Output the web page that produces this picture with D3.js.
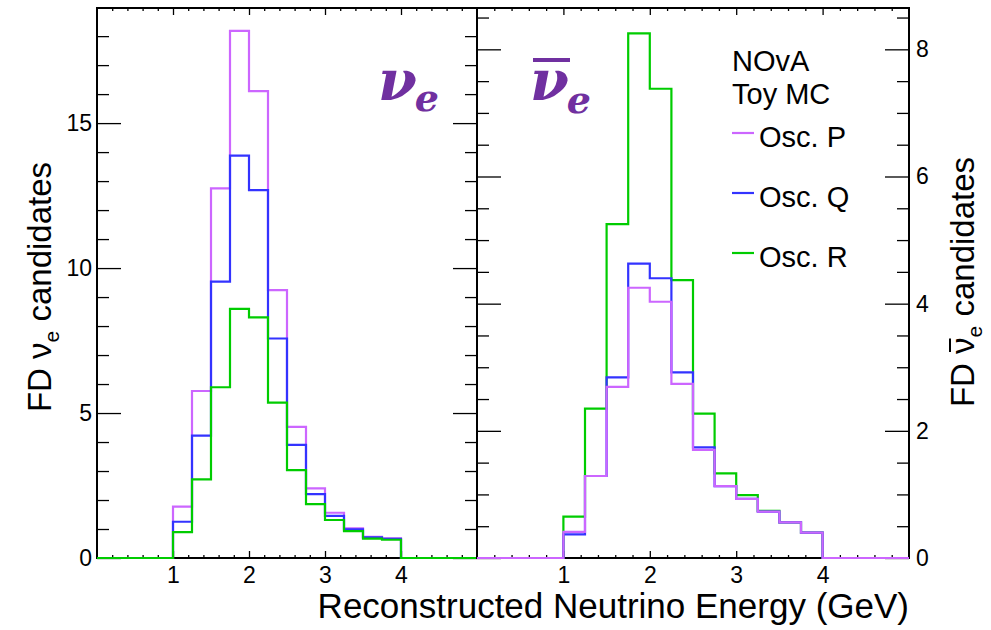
<!DOCTYPE html>
<html>
<head>
<meta charset="utf-8">
<script src="https://cdn.jsdelivr.net/npm/d3@7"></script>
<style>
    body { margin: 0; background: #fff; }
    text { font-family: "Liberation Sans", Arial, sans-serif; }
</style>
</head>
<body>
<svg id="chart" width="991" height="630"></svg>
<script>
// Bin lower edges (GeV), 0.25 GeV wide bins
const binLow = [0, 0.25, 0.5, 0.75, 1, 1.25, 1.5, 1.75, 2, 2.25,
                2.5, 2.75, 3, 3.25, 3.5, 3.75, 4, 4.25, 4.5, 4.75];
const binWidth = 0.25;

// nu_e panel
const nueP = [0, 0, 0, 0, 1.77, 5.76, 12.75, 18.18, 16.1, 9.24, 4.52, 2.40, 1.56, 1.02, 0.73, 0.68, 0, 0, 0, 0];
const nueQ = [0, 0, 0, 0, 1.25, 4.22, 9.53, 13.88, 12.69, 7.57, 3.90, 2.20, 1.45, 0.99, 0.71, 0.66, 0, 0, 0, 0];
const nueR = [0, 0, 0, 0, 0.89, 2.71, 5.89, 8.59, 8.30, 5.36, 3.03, 1.86, 1.31, 0.93, 0.67, 0.63, 0, 0, 0, 0];

// anti nu_e panel
const nuebarP = [0, 0, 0, 0, 0.41, 1.29, 2.69, 4.25, 4.03, 2.74, 1.70, 1.13, 0.93, 0.73, 0.56, 0.40, 0, 0, 0, 0];
const nuebarQ = [0, 0, 0, 0, 0.37, 1.29, 2.84, 4.63, 4.40, 2.92, 1.74, 1.13, 0.93, 0.73, 0.56, 0.40, 0, 0, 0, 0];
const nuebarR = [0, 0, 0, 0, 0.65, 2.35, 5.25, 8.25, 7.38, 4.37, 2.27, 1.33, 0.99, 0.74, 0.56, 0.40, 0, 0, 0, 0];

const xMajor = [1, 2, 3, 4];
const xMinor = [0.2, 0.4, 0.6, 0.8, 1.2, 1.4, 1.6, 1.8, 2.2, 2.4, 2.6, 2.8,
                3.2, 3.4, 3.6, 3.8, 4.2, 4.4, 4.6, 4.8];
const nueMajor = [0, 5, 10, 15];
const nueMinor = [1, 2, 3, 4, 6, 7, 8, 9, 11, 12, 13, 14, 16, 17, 18];
const nuebarMajor = [0, 2, 4, 6, 8];
const nuebarMinor = [0.5, 1, 1.5, 2.5, 3, 3.5, 4.5, 5, 5.5, 6.5, 7, 7.5, 8.5];

const seriesNames = ["Osc. P", "Osc. Q", "Osc. R"];
const colors = {"Osc. P": "#cc66ff", "Osc. Q": "#3333ff", "Osc. R": "#00cc00"};

const frameTop = 8, frameBottom = 558;
const svg = d3.select("#chart");

function stepPoints(values) {
    let pts = [];
    for (let i = 0; i < values.length; i++) {
        pts.push([binLow[i], values[i]]);
        pts.push([binLow[i] + binWidth, values[i]]);
    }
    return pts;
}

function drawPanel(left, right, yMax, yMajor, yMinor, hists, labelSide) {
    const x = d3.scaleLinear().domain([0, 5]).range([left, right]);
    const y = d3.scaleLinear().domain([0, yMax]).range([frameBottom, frameTop]);
    const g = svg.append("g");

    // ticks on all four sides, pointing inward
    function addAxis(axis, tx, ty) {
        const a = g.append("g")
            .attr("transform", "translate(" + tx + "," + ty + ")")
            .call(axis);
        a.select(".domain").remove();
        a.selectAll("line").attr("stroke", "#000").attr("stroke-width", 1.3);
        a.selectAll("text")
            .attr("font-family", "Liberation Sans, Arial, sans-serif")
            .attr("font-size", 23)
            .attr("fill", "#000");
        return a;
    }

    addAxis(d3.axisBottom(x).tickValues(xMinor).tickSize(-3).tickFormat(""), 0, frameBottom);
    addAxis(d3.axisBottom(x).tickValues(xMajor).tickSize(-7).tickPadding(9).tickFormat(d3.format("d")), 0, frameBottom);
    addAxis(d3.axisTop(x).tickValues(xMinor).tickSize(-3).tickFormat(""), 0, frameTop);
    addAxis(d3.axisTop(x).tickValues(xMajor).tickSize(-7).tickFormat(""), 0, frameTop);

    addAxis(d3.axisLeft(y).tickValues(yMinor).tickSize(-12).tickFormat(""), left, 0);
    addAxis(d3.axisRight(y).tickValues(yMinor).tickSize(-12).tickFormat(""), right, 0);
    if (labelSide === "left") {
        addAxis(d3.axisLeft(y).tickValues(yMajor).tickSize(-24).tickPadding(5).tickFormat(d3.format("d")), left, 0);
        addAxis(d3.axisRight(y).tickValues(yMajor).tickSize(-24).tickFormat(""), right, 0);
    } else {
        addAxis(d3.axisLeft(y).tickValues(yMajor).tickSize(-24).tickFormat(""), left, 0);
        addAxis(d3.axisRight(y).tickValues(yMajor).tickSize(-24).tickPadding(7).tickFormat(d3.format("d")), right, 0);
    }

    // frame
    g.append("rect")
        .attr("x", left)
        .attr("y", frameTop)
        .attr("width", right - left)
        .attr("height", frameBottom - frameTop)
        .attr("fill", "none")
        .attr("stroke", "#000")
        .attr("stroke-width", 2);

    // histograms, drawn over the frame like ROOT does
    const line = d3.line()
        .x(d => x(d[0]))
        .y(d => y(d[1]));

    for (let h of hists) {
        g.append("path")
            .attr("d", line(stepPoints(h.values)))
            .attr("fill", "none")
            .attr("stroke", colors[h.name])
            .attr("stroke-width", 2.2);
    }

    return {x: x, y: y};
}

drawPanel(97, 477, 18.97, nueMajor, nueMinor, [
    {name: "Osc. P", values: nueP},
    {name: "Osc. Q", values: nueQ},
    {name: "Osc. R", values: nueR}
], "left");

drawPanel(477, 909, 8.65, nuebarMajor, nuebarMinor, [
    {name: "Osc. R", values: nuebarR},
    {name: "Osc. Q", values: nuebarQ},
    {name: "Osc. P", values: nuebarP}
], "right");

// big panel labels
const purple = "#7030a0";
const nuLeft = svg.append("text")
    .attr("x", 378)
    .attr("y", 100)
    .attr("fill", purple)
    .style("font-family", "DejaVu Serif, serif")
    .style("font-weight", "bold")
    .style("font-style", "italic");
nuLeft.append("tspan").attr("font-size", 56).text("ν");
nuLeft.append("tspan").attr("font-size", 38).attr("dx", -2).attr("dy", 11).text("e");

const nuRight = svg.append("text")
    .attr("x", 530)
    .attr("y", 100)
    .attr("fill", purple)
    .style("font-family", "DejaVu Serif, serif")
    .style("font-weight", "bold")
    .style("font-style", "italic");
nuRight.append("tspan").attr("font-size", 56).text("ν");
nuRight.append("tspan").attr("font-size", 38).attr("dx", -2).attr("dy", 13).text("e");
svg.append("rect")
    .attr("x", 533)
    .attr("y", 58)
    .attr("width", 37)
    .attr("height", 4)
    .attr("fill", purple);

// legend
svg.append("text").attr("x", 732).attr("y", 71).attr("font-size", 29).text("NOvA");
svg.append("text").attr("x", 732).attr("y", 104).attr("font-size", 29).text("Toy MC");
const legendY = [133, 193, 253];
seriesNames.forEach(function(name, i) {
    svg.append("line")
        .attr("x1", 732).attr("x2", 754)
        .attr("y1", legendY[i]).attr("y2", legendY[i])
        .attr("stroke", colors[name])
        .attr("stroke-width", 2.2);
    svg.append("text")
        .attr("x", 759)
        .attr("y", legendY[i] + 14)
        .attr("font-size", 29)
        .text(name);
});

// axis titles
svg.append("text")
    .attr("x", 909)
    .attr("y", 618)
    .attr("text-anchor", "end")
    .attr("font-size", 35)
    .text("Reconstructed Neutrino Energy (GeV)");

const yTitleL = svg.append("text")
    .attr("transform", "translate(51,287) rotate(-90)")
    .attr("text-anchor", "middle")
    .attr("font-size", 33);
yTitleL.append("tspan").text("FD ν");
yTitleL.append("tspan").attr("font-size", 21).attr("dy", 8).text("e");
yTitleL.append("tspan").attr("dy", -8).text(" candidates");

const gTitleR = svg.append("g")
    .attr("transform", "translate(974,282) rotate(-90)");
const yTitleR = gTitleR.append("text")
    .attr("text-anchor", "middle")
    .attr("font-size", 33);
yTitleR.append("tspan").text("FD ν");
yTitleR.append("tspan").attr("font-size", 21).attr("dy", 8).text("e");
yTitleR.append("tspan").attr("dy", -8).text(" candidates");

// bar over the nu in the right title
const nuBox = yTitleR.node().getExtentOfChar(3);
gTitleR.append("line")
    .attr("x1", nuBox.x + 2)
    .attr("x2", nuBox.x + nuBox.width - 1)
    .attr("y1", -24)
    .attr("y2", -24)
    .attr("stroke", "#000")
    .attr("stroke-width", 2);
</script>
</body>
</html>
